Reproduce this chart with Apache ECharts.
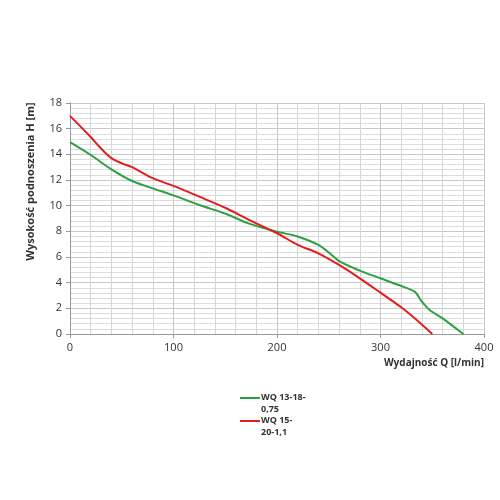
<!DOCTYPE html>
<html><head><meta charset="utf-8">
<script src="https://cdn.jsdelivr.net/npm/echarts@6/dist/echarts.min.js"></script>
<style>html,body{margin:0;padding:0;background:#fff}#c{width:500px;height:500px}</style>
</head><body><div id="c"></div>
<script>
var seriesNames = ["WQ 13-18-0,75", "WQ 15-20-1,1"];
var legendLabels = {"WQ 13-18-0,75": "WQ 13-18-\n0,75", "WQ 15-20-1,1": "WQ 15-\n20-1,1"};
var greenQ = [0, 20, 40, 60, 80, 100, 125, 151, 173, 200, 220, 240, 251, 260, 280, 300, 320, 333, 340, 347.5, 360, 380];
var greenH = [14.95, 13.95, 12.83, 11.92, 11.35, 10.8, 10.05, 9.35, 8.6, 7.97, 7.6, 6.94, 6.29, 5.68, 4.94, 4.34, 3.74, 3.3, 2.52, 1.87, 1.22, 0];
var redQ = [0, 20, 30, 40, 50, 60, 80, 100, 125, 151, 173, 200, 220, 240, 260, 280, 300, 320, 335, 350];
var redH = [17.0, 15.35, 14.45, 13.7, 13.3, 13.0, 12.14, 11.54, 10.7, 9.8, 8.9, 7.85, 6.95, 6.29, 5.38, 4.34, 3.22, 2.08, 1.09, 0];
var colors = ["#2ea043", "#e01e1e"];
function pairs(xs, ys){ return xs.map(function(x,i){return [x, ys[i]];}); }
var chart = echarts.init(document.getElementById('c'));
var font = "Open Sans";
chart.setOption({
  animation: false,
  grid: {left: 70, right: 16, top: 103, bottom: 166},
  legend: {
    orient: 'vertical', left: 235, top: 387, itemWidth: 20, itemHeight: 23, itemGap: 0,
    icon: 'path://M0,5H20V7H0Z M0,0H0.01V0.01H0Z M0,23H0.01V23.01H0Z',
    itemStyle: {borderWidth: 0},
    data: seriesNames,
    formatter: function(n){ return legendLabels[n]; },
    textStyle: {fontFamily: font, fontSize: 9, fontWeight: 'bold', color: '#333', lineHeight: 11.5, padding: [0,0,0,-4]}
  },
  xAxis: {
    type: 'value', min: 0, max: 400, interval: 100,
    name: 'Wydajność Q [l/min]', nameLocation: 'end',
    nameGap: 0,
    nameTextStyle: {fontFamily: font, fontSize: 10, fontWeight: 'bold', color: '#333', align: 'right', verticalAlign: 'top', padding: [24,0,0,0]},
    axisLine: {lineStyle: {color: '#999'}},
    axisTick: {show: true, length: 4, lineStyle: {color: '#999'}},
    axisLabel: {fontFamily: font, fontSize: 11, color: '#333', margin: 8},
    splitLine: {show: true, lineStyle: {color: '#c8c8c8', width: 1}},
    minorTick: {show: false, splitNumber: 5},
    minorSplitLine: {show: true, lineStyle: {color: '#d6d6d6', width: 1}}
  },
  yAxis: {
    type: 'value', min: 0, max: 18, interval: 2,
    name: 'Wysokość podnoszenia H [m]', nameLocation: 'middle', nameGap: 34, nameRotate: 90,
    nameTextStyle: {fontFamily: font, fontSize: 11, fontWeight: 'bold', color: '#333', padding: [0,0,0,74]},
    axisLine: {show: true, lineStyle: {color: '#999'}},
    axisTick: {show: true, length: 4, lineStyle: {color: '#999'}},
    axisLabel: {fontFamily: font, fontSize: 11, color: '#333', margin: 8},
    splitLine: {show: true, lineStyle: {color: '#c8c8c8', width: 1}},
    minorTick: {show: false, splitNumber: 5},
    minorSplitLine: {show: true, lineStyle: {color: '#dcdcdc', width: 1}}
  },
  series: [
    {name: seriesNames[0], type: 'line', data: pairs(greenQ, greenH), smooth: 0.3, showSymbol: false, lineStyle: {color: colors[0], width: 2}, itemStyle: {color: colors[0]}},
    {name: seriesNames[1], type: 'line', data: pairs(redQ, redH), smooth: 0.3, showSymbol: false, lineStyle: {color: colors[1], width: 2}, itemStyle: {color: colors[1]}}
  ]
});
</script></body></html>
